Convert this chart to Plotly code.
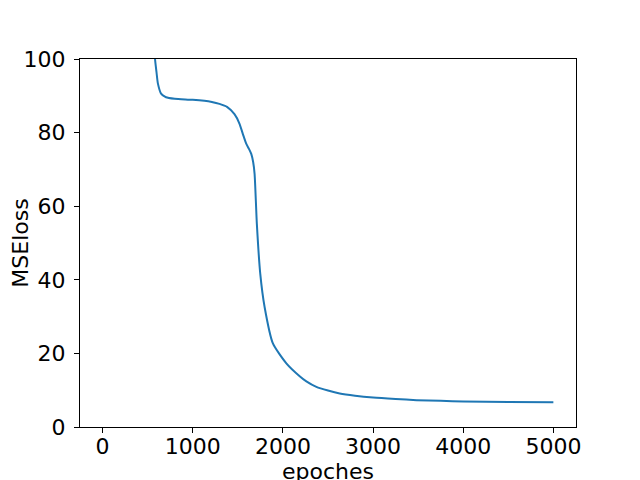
import plotly.graph_objects as go

# training loss
epochs = [0, 300, 500, 540, 565, 582, 598, 614, 649, 704, 800, 1000, 1200, 1297, 1380,
          1463, 1519, 1556, 1593, 1625, 1649, 1670, 1686, 1711, 1749, 1797, 1889,
          2038, 2186, 2260, 2371, 2500, 2630, 2800, 3000, 3250, 3482, 3750, 4000,
          4500, 4999]
mse_loss = [400.0, 250.0, 150.0, 125.0, 110.0, 100.0, 96.5, 93.3, 90.6, 89.6, 89.2,
            88.9, 88.4, 87.8, 87.0, 85.0, 82.4, 79.6, 77.0, 75.5, 74.2, 72.0, 68.8,
            55.2, 41.6, 32.6, 22.7, 17.3, 13.8, 12.4, 10.9, 9.9, 9.1, 8.5, 8.0, 7.6,
            7.3, 7.1, 6.9, 6.8, 6.7]

x_ticks = [0, 1000, 2000, 3000, 4000, 5000]
y_ticks = [0, 20, 40, 60, 80, 100]

FONT = "DejaVu Sans"

fig = go.Figure(go.Scatter(
    x=epochs, y=mse_loss, mode="lines",
    line=dict(color="#1f77b4", width=2, shape="spline", smoothing=0.6),
    showlegend=False,
))

axis_style = dict(
    showline=True, linecolor="black", linewidth=1, mirror=True,
    ticks="outside", ticklen=5, tickwidth=1, tickcolor="black",
    showgrid=False, zeroline=False, automargin=False,
    tickfont=dict(family=FONT, size=22, color="black"),
)

fig.update_xaxes(
    range=[-250, 5250], tickvals=x_ticks, ticklabelstandoff=-5,
    title=dict(text="epoches", font=dict(family=FONT, size=22, color="black"), standoff=0),
    **axis_style,
)
fig.update_yaxes(
    range=[0, 100], tickvals=y_ticks, ticklabelstandoff=4,
    title=dict(text="MSEloss", font=dict(family=FONT, size=22, color="black"), standoff=8),
    **axis_style,
)

# the page body adds an 8px offset, so margins are trimmed to land the frame
fig.update_layout(
    width=640, height=480,
    margin=dict(l=72, r=72, t=51, b=61),
    plot_bgcolor="white", paper_bgcolor="white",
)

fig.write_html("out.html")
